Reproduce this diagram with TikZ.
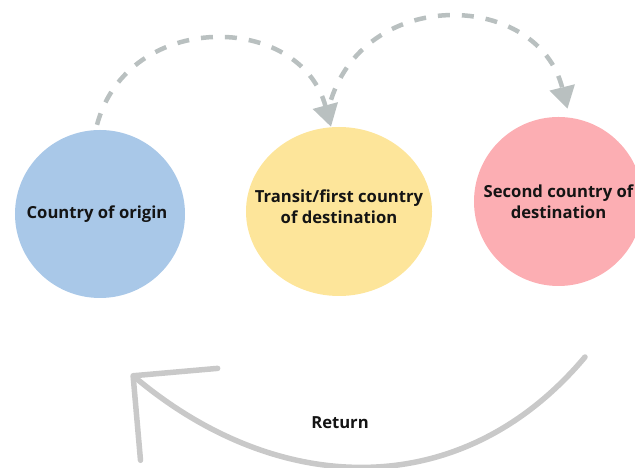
\documentclass[tikz,border=0pt]{standalone}
\usepackage{fontspec}
\setmainfont{Open Sans}
\usepackage{tikz}
\usetikzlibrary{
    arrows.meta,
    shapes.geometric,
}
\definecolor{originblue}{HTML}{A9C8E8}
\definecolor{transityellow}{HTML}{FDE59A}
\definecolor{secondpink}{HTML}{FCAEB3}
\definecolor{hopgray}{HTML}{B9C0C0}
\definecolor{returngray}{HTML}{C9C9C9}
\tikzset{
    country/.style={ellipse, draw=none, inner sep=0pt},
    country text/.style={font=\fontsize{16.7}{21.5}\selectfont\bfseries, align=center, text=black!92},
}

\begin{document}
\begin{tikzpicture}[
    x=1bp, y=1bp,
    hop/.style={draw=hopgray, line width=4.5bp, dash pattern=on 12bp off 12bp,
        -{Triangle[length=22bp, width=25bp]}, looseness=1.3},
    return path/.style={draw=returngray, line width=5.5bp, line cap=round,
        -{Straight Barb[length=60bp, width=120bp, round]}},
    ]
    \useasboundingbox (0,0) rectangle (635,468);

    % countries
    \node[country, fill=originblue, minimum width=170bp, minimum height=168bp] (origin) at (100,254) {};
    \node[country, fill=transityellow, minimum width=186bp, minimum height=169bp] (transit) at (339,256.5) {};
    \node[country, fill=secondpink, minimum width=169bp, minimum height=169bp] (second) at (558.5,266.5) {};

    \node[country text] (origin text) at ([xshift=-3bp]origin.center) {Country of origin};
    \node[country text] (transit text) at ([yshift=5bp]transit.center) {Transit/first country\\of destination};
    \node[country text] (second text) at (second) {Second country of\\destination};

    % moves
    \coordinate (hop1 start) at ([xshift=-3bp, yshift=5bp]origin.north);
    \coordinate (hop2 start) at ([xshift=-8bp, yshift=27bp]transit.north);
    \draw[hop] (hop1 start) to[out=75, in=105] ([xshift=-8bp]transit.north);
    \draw[hop] (hop2 start) to[out=72, in=104] ([xshift=9bp, yshift=8bp]second.north);

    % way back
    \coordinate (ret start) at (585,111);
    \coordinate (ret end) at (131,94);
    \draw[return path, looseness=1.08] (ret start) to[out=230, in=-40] (ret end);
    \node[country text] (return text) at (340,45) {Return};

\end{tikzpicture}
\end{document}
